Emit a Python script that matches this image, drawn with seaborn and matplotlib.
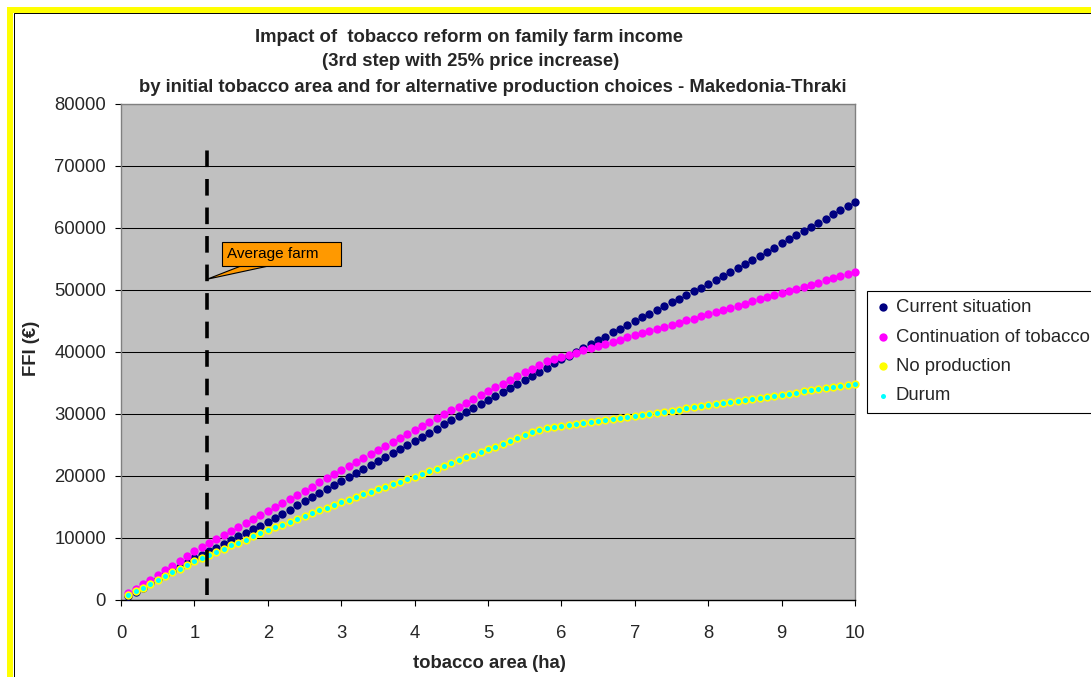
"""
Recreate the Excel-style scatter chart of family farm income (FFI)
against initial tobacco area for four production choices.
"""

import matplotlib.patches as mpatches
import matplotlib.pyplot as plt
import pandas as pd
import seaborn as sns

TITLE_LINES: list[str] = [
    "Impact of  tobacco reform on family farm income",
    "(3rd step with 25% price increase)",
    "by initial tobacco area and for alternative production choices - Makedonia-Thraki",
]

AREA_HA: list[float] = [
    0.1, 0.2, 0.3, 0.4, 0.5, 0.6, 0.7, 0.8, 0.9, 1.0,
    1.1, 1.2, 1.3, 1.4, 1.5, 1.6, 1.7, 1.8, 1.9, 2.0,
    2.1, 2.2, 2.3, 2.4, 2.5, 2.6, 2.7, 2.8, 2.9, 3.0,
    3.1, 3.2, 3.3, 3.4, 3.5, 3.6, 3.7, 3.8, 3.9, 4.0,
    4.1, 4.2, 4.3, 4.4, 4.5, 4.6, 4.7, 4.8, 4.9, 5.0,
    5.1, 5.2, 5.3, 5.4, 5.5, 5.6, 5.7, 5.8, 5.9, 6.0,
    6.1, 6.2, 6.3, 6.4, 6.5, 6.6, 6.7, 6.8, 6.9, 7.0,
    7.1, 7.2, 7.3, 7.4, 7.5, 7.6, 7.7, 7.8, 7.9, 8.0,
    8.1, 8.2, 8.3, 8.4, 8.5, 8.6, 8.7, 8.8, 8.9, 9.0,
    9.1, 9.2, 9.3, 9.4, 9.5, 9.6, 9.7, 9.8, 9.9, 10.0,
]

CURRENT_SITUATION_FFI: list[int] = [
    700, 1350, 2000, 2700, 3350, 4000, 4700, 5350, 6000, 6700,
    7300, 7900, 8450, 9050, 9650, 10250, 10850, 11450, 12000, 12600,
    13250, 13900, 14550, 15250, 15900, 16550, 17200, 17900, 18550, 19200,
    19850, 20500, 21150, 21800, 22450, 23100, 23750, 24400, 25050, 25700,
    26350, 27000, 27650, 28350, 29000, 29650, 30300, 30950, 31650, 32300,
    32950, 33600, 34250, 34900, 35550, 36200, 36850, 37500, 38150, 38800,
    39400, 40050, 40650, 41300, 41900, 42500, 43150, 43750, 44400, 45000,
    45600, 46200, 46800, 47400, 48000, 48600, 49200, 49800, 50400, 51000,
    51650, 52300, 52950, 53600, 54250, 54900, 55550, 56200, 56850, 57500,
    58150, 58850, 59500, 60200, 60850, 61500, 62200, 62850, 63550, 64200,
]

CONTINUATION_FFI: list[int] = [
    1050, 1800, 2550, 3300, 4050, 4800, 5550, 6300, 7100, 7850,
    8500, 9150, 9800, 10450, 11100, 11700, 12350, 13000, 13650, 14300,
    14950, 15650, 16300, 17000, 17650, 18300, 19000, 19650, 20350, 21000,
    21650, 22300, 22950, 23600, 24250, 24900, 25550, 26200, 26850, 27500,
    28100, 28750, 29350, 29950, 30600, 31200, 31850, 32450, 33100, 33700,
    34300, 34900, 35500, 36100, 36700, 37300, 37900, 38500, 38850, 39200,
    39550, 39900, 40250, 40600, 40950, 41300, 41650, 42000, 42350, 42700,
    43050, 43400, 43700, 44050, 44400, 44750, 45100, 45400, 45750, 46100,
    46450, 46800, 47100, 47450, 47800, 48150, 48500, 48800, 49150, 49500,
    49850, 50200, 50500, 50850, 51200, 51550, 51900, 52200, 52550, 52900,
]

NO_PRODUCTION_FFI: list[int] = [
    800, 1400, 2000, 2650, 3250, 3850, 4450, 5050, 5700, 6300,
    6800, 7300, 7800, 8300, 8800, 9250, 9750, 10250, 10750, 11250,
    11700, 12150, 12600, 13050, 13500, 14000, 14450, 14900, 15350, 15800,
    16200, 16600, 17050, 17450, 17850, 18250, 18650, 19100, 19500, 19900,
    20350, 20800, 21200, 21650, 22100, 22550, 23000, 23400, 23850, 24300,
    24750, 25200, 25700, 26150, 26600, 27050, 27500, 27700, 27850, 28000,
    28150, 28350, 28500, 28700, 28850, 29000, 29200, 29350, 29550, 29700,
    29850, 30050, 30200, 30400, 30550, 30700, 30900, 31050, 31250, 31400,
    31550, 31750, 31900, 32100, 32250, 32400, 32600, 32750, 32950, 33100,
    33300, 33450, 33650, 33800, 34000, 34150, 34350, 34500, 34700, 34860,
]

# durum sits right on top of the no-production points in the chart
DURUM_FFI: list[int] = NO_PRODUCTION_FFI[:]

SERIES_LABELS: list[str] = [
    "Current situation",
    "Continuation of tobacco",
    "No production",
    "Durum",
]

X_TICKS: list[int] = [0, 1, 2, 3, 4, 5, 6, 7, 8, 9, 10]
Y_TICKS: list[int] = [0, 10000, 20000, 30000, 40000, 50000, 60000, 70000, 80000]

AVERAGE_FARM_HA: float = 1.17

FIG_W, FIG_H = 1091, 677
FONT_SIZE = 13.3
PLOT_BG = "#C0C0C0"
ORANGE = "#FF9900"


def fx(px):
    return px / FIG_W


def fy(px):
    return 1 - px / FIG_H


def main() -> None:
    sns.set_style("white")
    plt.rcParams["font.family"] = ["Liberation Sans", "DejaVu Sans"]

    df = pd.DataFrame({
        "area": AREA_HA,
        SERIES_LABELS[0]: CURRENT_SITUATION_FFI,
        SERIES_LABELS[1]: CONTINUATION_FFI,
        SERIES_LABELS[2]: NO_PRODUCTION_FFI,
        SERIES_LABELS[3]: DURUM_FFI,
    })

    fig = plt.figure(figsize=(FIG_W / 100, FIG_H / 100), dpi=100)
    fig.patch.set_facecolor("white")
    ax = fig.add_axes([fx(121), fy(600), fx(855) - fx(121), fy(104) - fy(600)])
    ax.set_facecolor(PLOT_BG)

    styles = [
        ("#000080", 36),
        ("#FF00FF", 36),
        ("#FFFF00", 36),
        ("#00FFFF", 13),
    ]
    for label, (color, size) in zip(SERIES_LABELS, styles):
        sns.scatterplot(
            data=df, x="area", y=label, ax=ax,
            color=color, s=size, linewidth=0, label=label,
            clip_on=False, zorder=3,
        )

    ax.set_xlim(0, 10)
    ax.set_ylim(0, 80000)
    ax.set_xticks(X_TICKS)
    ax.set_yticks(Y_TICKS)
    ax.set(xlabel="", ylabel="")

    ax.yaxis.grid(True, color="black", linewidth=0.75)
    ax.set_axisbelow(True)
    for side in ["top", "right", "left"]:
        ax.spines[side].set_color("#808080")
        ax.spines[side].set_linewidth(1.0)
    ax.spines["bottom"].set_color("black")
    ax.spines["bottom"].set_linewidth(1.0)

    ax.tick_params(axis="y", direction="out", length=4.3, width=0.8,
                   color="black", pad=6.5, labelsize=FONT_SIZE, left=True)
    ax.tick_params(axis="x", direction="out", length=4.3, width=0.8,
                   color="black", pad=14, labelsize=FONT_SIZE, bottom=True)

    # average farm marker
    ax.axvline(AVERAGE_FARM_HA, ymin=0.01, ymax=0.907, color="black",
               linewidth=2.6, linestyle=(0, (4.6, 3.3)), zorder=4)

    box_x0, box_x1 = (221.7 - 121) / 73.4, (341 - 121) / 73.4
    box_y0, box_y1 = (600 - 265.7) / 0.0062, (600 - 241.7) / 0.0062
    pointer = mpatches.Polygon(
        [(AVERAGE_FARM_HA, (600 - 279.3) / 0.0062),
         ((241.7 - 121) / 73.4, box_y0),
         ((270 - 121) / 73.4, box_y0)],
        closed=True, facecolor=ORANGE, edgecolor="black", linewidth=0.8,
        zorder=5, clip_on=False,
    )
    box = mpatches.Rectangle(
        (box_x0, box_y0), box_x1 - box_x0, box_y1 - box_y0,
        facecolor=ORANGE, edgecolor="black", linewidth=0.8, zorder=5,
    )
    ax.add_patch(pointer)
    ax.add_patch(box)
    ax.text((226.7 - 121) / 73.4, (box_y0 + box_y1) / 2, "Average farm",
            ha="left", va="center", fontsize=11, color="black", zorder=6)

    legend = ax.legend(
        loc="upper left", bbox_to_anchor=(fx(867), fy(291)),
        bbox_transform=fig.transFigure, frameon=True, fancybox=False,
        edgecolor="black", framealpha=1, borderpad=0.45, borderaxespad=0,
        handlelength=0.8, handletextpad=0.3, labelspacing=0.67,
        fontsize=FONT_SIZE,
    )
    legend.get_frame().set_linewidth(0.8)

    title_centres = [(469, 37), (471, 62), (493, 87)]
    for line, (cx, cy) in zip(TITLE_LINES, title_centres):
        fig.text(fx(cx), fy(cy), line, ha="center", va="center",
                 fontsize=FONT_SIZE, fontweight="bold")
    fig.text(fx(489), fy(663), "tobacco area (ha)", ha="center", va="center",
             fontsize=FONT_SIZE, fontweight="bold")
    fig.text(fx(31), fy(348), "FFI (€)", ha="center", va="center",
             rotation=90, fontsize=FONT_SIZE, fontweight="bold")

    # yellow frame along the top and left edges
    fig.patches.append(mpatches.Rectangle(
        (fx(10), fy(FIG_H + 20)), fx(FIG_W + 40), fy(10) - fy(FIG_H + 20),
        transform=fig.transFigure, fill=False, edgecolor="#FFFF00",
        linewidth=4.3, zorder=0,
    ))
    fig.patches.append(mpatches.Rectangle(
        (fx(13.5), fy(FIG_H + 20)), fx(FIG_W + 40), fy(13.5) - fy(FIG_H + 20),
        transform=fig.transFigure, fill=False, edgecolor="black",
        linewidth=0.7, zorder=0,
    ))

    fig.savefig("out.png", dpi=100, facecolor="white")


if __name__ == "__main__":
    main()
